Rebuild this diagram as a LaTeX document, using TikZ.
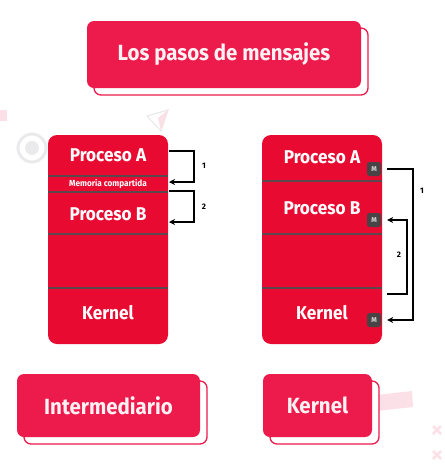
\documentclass[tikz,border=0pt]{standalone}
\usepackage{fontspec}
\setmainfont{Fira Sans}
\newfontfamily\narrowfont[FakeStretch=0.93]{Fira Sans}
\usetikzlibrary{positioning,calc,arrows.meta}
\definecolor{boxred}{RGB}{232,10,48}
\definecolor{tagred}{RGB}{237,26,76}
\definecolor{sepgray}{RGB}{90,72,78}
\definecolor{badgegray}{RGB}{72,68,70}
\definecolor{fadepink}{RGB}{252,224,231}
\definecolor{fadegray}{RGB}{234,234,236}
\newcommand\tagbox[5]{% name, centre, width, height, text
  \node[tagshadow,minimum width=#3,minimum height=#4] at ($(#2)+(7,7)$) {};
  \node[tag,minimum width=#3,minimum height=#4] (#1) at (#2) {#5};
}
\tikzset{%
  >={Stealth[length=6pt,width=6pt]},
  tag/.style={fill=tagred,rounded corners=7pt,text=white!94!tagred,
    font=\narrowfont\bfseries\fontsize{22}{22}\selectfont},
  tagshadow/.style={draw=tagred,fill=white,line width=1.3pt,rounded corners=7pt},
  column/.style={fill=boxred,rounded corners=9pt,inner sep=0pt,
    minimum width=120pt,minimum height=209pt},
  sep/.style={draw=sepgray,line width=2.6pt},
  proc/.style={text=white,font=\narrowfont\bfseries\fontsize{18.5}{18.5}\selectfont},
  memo/.style={text=white,font=\narrowfont\bfseries\fontsize{8.8}{8.8}\selectfont},
  badge/.style={fill=badgegray,rounded corners=2.5pt,inner sep=0pt,
    minimum size=14pt,text=white!85!black,font=\bfseries\fontsize{7}{7}\selectfont},
  msg/.style={->,line width=1.8pt},
  num/.style={font=\bfseries\fontsize{8}{8}\selectfont}
}

\begin{document}
\begin{tikzpicture}[x=1pt,y=-1pt]
	\useasboundingbox (0,0) rectangle (445,467);
	
	%% faint decorations
	\fill[fadepink] (0,110) rectangle (7,121);
	\draw[fadegray,line width=1.2pt] (147,116) -- (168,110) -- (161,131) -- cycle;
	\fill[fadepink] (158,118) -- (168,110) -- (161,131) -- cycle;
	\draw[fadegray,line width=3pt] (32,148) circle (14);
	\fill[fadegray] (32,148) circle (7);
	\fill[fadepink] (368,396) -- (412,391) -- (413,407) -- (368,412) -- cycle;
	\draw[fadepink,line width=2.5pt] (433,426) -- (441,434) (433,434) -- (441,426);
	\draw[fadepink,line width=2.5pt] (433,451) -- (441,459) (433,459) -- (441,451);
	
	%% title
	\tagbox{title}{224,54.5}{274pt}{67pt}{Los pasos de mensajes}
	
	%% left column: shared memory
	\node[column] (colA) at (108,239.5) {};
	\foreach \y in {176,192,234,288}
		\draw[sep] (48,\y) -- (168,\y);
	\node[proc] (pA) at (108,155) {Proceso A};
	\node[memo] (mem) at (108,184) {Memoria compartida};
	\node[proc] (pB) at (108,214) {Proceso B};
	\node[proc] (kA) at (108,313) {Kernel};
	
	\coordinate (a1) at (169,151);
	\coordinate (a2) at (169,182);
	\coordinate (b1) at (169,191);
	\coordinate (b2) at (169,222);
	\draw[msg] (a1) -- ++(25,0) |- (a2);
	\draw[msg] (b1) -- ++(25,0) |- (b2);
	\node[num] (n1) at (204,166) {1};
	\node[num] (n2) at (204,207) {2};
	
	%% right column: message passing
	\node[column] (colB) at (322,239.5) {};
	\foreach \y in {181,234,288}
		\draw[sep] (262,\y) -- (382,\y);
	\node[proc] (qA) at (322,157) {Proceso A};
	\node[proc] (qB) at (322,208) {Proceso B};
	\node[proc] (kB) at (322,313) {Kernel};
	\node[badge] (mA) at (374,169) {M};
	\node[badge] (mB) at (374,220) {M};
	\node[badge] (mK) at (374,320) {M};
	
	\coordinate (k2) at (387,294);
	\draw[msg] ([xshift=6pt]mA.east) -- ++(26,0) |- ([xshift=6pt]mK.east);
	\draw[msg] (k2) -- ++(20,0) |- ([xshift=6pt]mB.east);
	\node[num] (m1) at (422,191) {1};
	\node[num] (m2) at (399,255) {2};
	
	%% bottom labels
	\tagbox{inter}{108.5,405.5}{183pt}{63pt}{Intermediario}
	\tagbox{kern}{317.5,405.5}{109pt}{63pt}{Kernel}
\end{tikzpicture}
\end{document}
